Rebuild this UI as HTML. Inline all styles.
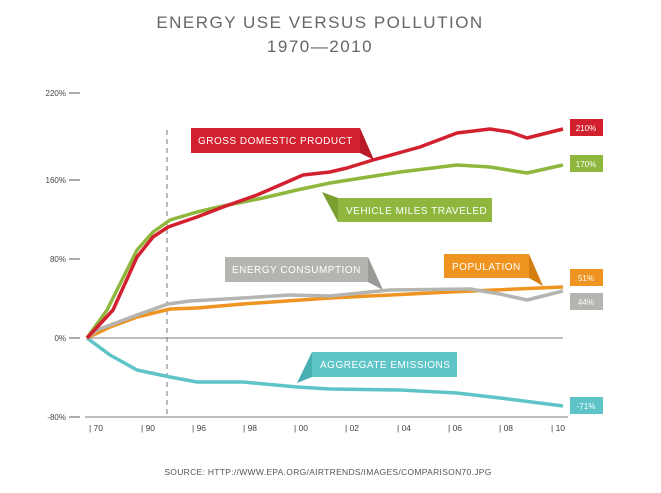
<!DOCTYPE html><html><head><style>body{margin:0;background:#fff}svg{display:block}text{font-family:"Liberation Sans",sans-serif}</style></head><body>
<svg width="661" height="493" viewBox="0 0 661 493">
<text x="320" y="28" text-anchor="middle" font-size="17" fill="#666" letter-spacing="1.5">ENERGY USE VERSUS POLLUTION</text>
<text x="320" y="52" text-anchor="middle" font-size="17" fill="#666" letter-spacing="1.5">1970—2010</text>
<g font-size="8" fill="#444" text-anchor="end">
<text x="66" y="96">220%</text><text x="66" y="183">160%</text><text x="66" y="262">80%</text><text x="66" y="341">0%</text><text x="66" y="420">-80%</text></g>
<g stroke="#555" stroke-width="1"><line x1="69" y1="93" x2="80" y2="93"/><line x1="69" y1="180" x2="80" y2="180"/><line x1="69" y1="259" x2="80" y2="259"/><line x1="69" y1="338" x2="80" y2="338"/><line x1="69" y1="417" x2="80" y2="417"/></g>
<line x1="87" y1="338" x2="563" y2="338" stroke="#aaa" stroke-width="1.5"/>
<line x1="85" y1="417" x2="568" y2="417" stroke="#aaa" stroke-width="1.5"/>
<line x1="167" y1="130" x2="167" y2="415" stroke="#777" stroke-dasharray="5,4"/>
<g font-size="8.5" fill="#444" stroke="none">
<text x="89" y="431">| 70</text><text x="141" y="431">| 90</text><text x="192" y="431">| 96</text><text x="243" y="431">| 98</text><text x="294" y="431">| 00</text><text x="345" y="431">| 02</text><text x="397" y="431">| 04</text><text x="448" y="431">| 06</text><text x="499" y="431">| 08</text><text x="551" y="431">| 10</text></g>
<g fill="none" stroke-width="3.5" stroke-linejoin="round">
<polyline stroke="#5ec4c8" points="87,338 110,355 137,370 170,377 197,382 243,382 297,387 330,389 400,390 457,393 500,398 563,406"/>
<polyline stroke="#ef9421" points="87,338 110,327 137,317 170,309 197,308 243,304 330,298 450,292 563,287"/>
<polyline stroke="#b4b4b0" points="87,338 97,330 137,315 168,304 190,301 243,298 290,295 330,296 390,290 470,289 500,294 527,300 563,291"/>
<polyline stroke="#8fb73e" points="87,338 107,310 137,250 153,232 170,220 197,212 223,206 263,198 297,190 330,183 400,172 457,165 490,167 527,173 563,165"/>
<polyline stroke="#d3202f" points="87,338 113,310 137,257 153,237 168,227 197,217 223,207 257,195 287,182 303,175 330,172 347,168 373,160 420,147 457,133 490,129 510,132 527,138 543,134 563,129"/>
</g>
<g font-size="10" fill="#fff" letter-spacing="0.5">
<polygon points="360,128 374,160 360,153" fill="#b81a27"/><rect x="191" y="128" width="169" height="25" fill="#d3202f"/><text x="198" y="144">GROSS DOMESTIC PRODUCT</text>
<polygon points="338,198 322,192 338,222" fill="#7a9e30"/><rect x="338" y="198" width="154" height="24" fill="#8fb73e"/><text x="346" y="214">VEHICLE MILES TRAVELED</text>
<polygon points="368,257 383,290 368,282" fill="#9a9a96"/><rect x="225" y="257" width="143" height="25" fill="#b4b4b0"/><text x="232" y="273">ENERGY CONSUMPTION</text>
<polygon points="529,254 543,286 529,278" fill="#d47e10"/><rect x="444" y="254" width="85" height="24" fill="#ef9421"/><text x="452" y="270">POPULATION</text>
<polygon points="312,352 297,383 312,377" fill="#48aeb2"/><rect x="312" y="352" width="145" height="25" fill="#5ec4c8"/><text x="320" y="368">AGGREGATE EMISSIONS</text>
</g>
<g font-size="8" fill="#fff" text-anchor="middle">
<rect x="570" y="119" width="33" height="17" fill="#d3202f"/><text x="586" y="131">210%</text>
<rect x="570" y="155" width="33" height="17" fill="#8fb73e"/><text x="586" y="167">170%</text>
<rect x="570" y="269" width="33" height="17" fill="#ef9421"/><text x="586" y="281">51%</text>
<rect x="570" y="293" width="33" height="17" fill="#b4b4b0"/><text x="586" y="305">44%</text>
<rect x="570" y="397" width="33" height="17" fill="#5ec4c8"/><text x="586" y="409">-71%</text>
</g>
<text x="328" y="475" text-anchor="middle" font-size="8.5" fill="#555" letter-spacing="0.3">SOURCE: HTTP://WWW.EPA.ORG/AIRTRENDS/IMAGES/COMPARISON70.JPG</text>
</svg></body></html>
